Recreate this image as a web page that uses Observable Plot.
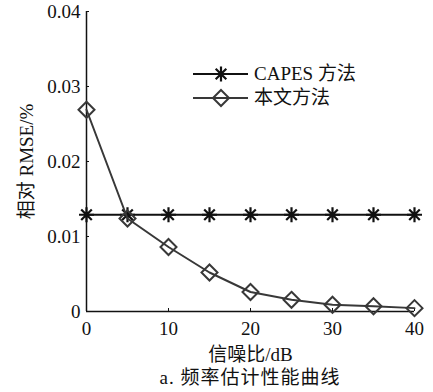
<!DOCTYPE html>
<html>
<head>
<meta charset="utf-8">
<script src="https://cdn.jsdelivr.net/npm/d3@7"></script>
<script src="https://cdn.jsdelivr.net/npm/@observablehq/plot@0.6"></script>
<style>
  html, body { margin: 0; padding: 0; background: #fff; }
  #wrap { position: relative; width: 433px; height: 392px; font-family: "Liberation Serif", "Noto Sans CJK SC", serif; }
  #caption { position: absolute; left: 86px; width: 328px; top: 367px; text-align: center; font-size: 19px; line-height: 22px; color: #111; letter-spacing: 1px; }
  #legend { position: absolute; left: 190px; top: 62px; }
</style>
</head>
<body>
<div id="wrap"></div>
<script>
const snr = [0, 5, 10, 15, 20, 25, 30, 35, 40];
const capes = [0.0129, 0.0129, 0.0129, 0.0129, 0.0129, 0.0129, 0.0129, 0.0129, 0.0129];
const proposed = [0.0269, 0.0124, 0.0086, 0.0052, 0.0026, 0.00156, 0.0009, 0.0007, 0.00045];
const seriesNames = ["CAPES 方法", "本文方法"];
const xTicks = [0, 10, 20, 30, 40];
const yTicks = [0, 0.01, 0.02, 0.03, 0.04];
const xLabel = "信噪比/dB";
const yLabel = "相对 RMSE/%";
const caption = "a. 频率估计性能曲线";

const asterisk = {
  draw(ctx, size) {
    const r = Math.sqrt(size / Math.PI);
    const d = r * Math.SQRT1_2;
    ctx.moveTo(0, -r); ctx.lineTo(0, r);
    ctx.moveTo(-r, 0); ctx.lineTo(r, 0);
    ctx.moveTo(-d, -d); ctx.lineTo(d, d);
    ctx.moveTo(-d, d); ctx.lineTo(d, -d);
  }
};
const diamond = {
  draw(ctx, size) {
    const r = Math.sqrt(size / Math.PI);
    ctx.moveTo(0, -r); ctx.lineTo(r, 0); ctx.lineTo(0, r); ctx.lineTo(-r, 0); ctx.closePath();
  }
};

const capesData = snr.map((x, i) => ({x, y: capes[i]}));
const propData = snr.map((x, i) => ({x, y: proposed[i]}));
const capesColor = "#111";
const propColor = "#383838";

const chart = Plot.plot({
  width: 433,
  height: 367,
  marginLeft: 86,
  marginRight: 19,
  marginTop: 11,
  marginBottom: 56,
  style: { fontFamily: '"Liberation Serif", "Noto Sans CJK SC", serif', fontSize: "19px", color: "#111", background: "#fff" },
  x: { domain: [0, 40] },
  y: { domain: [0, 0.04] },
  marks: [
    Plot.axisX({ ticks: xTicks, tickSize: -3, tickPadding: 13, tickFormat: d => String(d), label: xLabel, labelAnchor: "center", labelArrow: "none", labelOffset: 49, fontSize: 19, stroke: "#111", fill: "#111" }),
    Plot.axisY({ ticks: yTicks, tickSize: -3, tickPadding: 9, tickFormat: d => String(d), label: yLabel, labelAnchor: "center", labelArrow: "none", labelOffset: 67, fontSize: 19, stroke: "#111", fill: "#111" }),
    Plot.ruleX([0], { stroke: "#111", strokeWidth: 1.5 }),
    Plot.ruleY([0], { stroke: "#111", strokeWidth: 1.5 }),
    Plot.line(capesData, { x: "x", y: "y", stroke: capesColor, strokeWidth: 2 }),
    Plot.dot(capesData, { x: "x", y: "y", symbol: asterisk, r: 7.5, stroke: capesColor, strokeWidth: 2.2, fill: "none" }),
    Plot.line(propData, { x: "x", y: "y", stroke: propColor, strokeWidth: 2 }),
    Plot.dot(propData, { x: "x", y: "y", symbol: diamond, r: 8, stroke: propColor, strokeWidth: 2, fill: "none" })
  ]
});

const wrap = document.getElementById("wrap");
wrap.appendChild(chart);
chart.style.position = "absolute";
chart.style.left = "0px";
chart.style.top = "0px";

// Legend overlay
const legendSvg = d3.create("svg").attr("id", "legend").attr("width", 200).attr("height", 50)
  .style("font-family", '"Liberation Serif", "Noto Sans CJK SC", serif').style("font-size", "19px");
const items = [
  { name: seriesNames[0], color: capesColor, sym: asterisk, r: 7.5, sw: 2.2 },
  { name: seriesNames[1], color: propColor, sym: diamond, r: 8, sw: 2 }
];
items.forEach((it, i) => {
  const g = legendSvg.append("g").attr("transform", `translate(0, ${12 + i * 24})`);
  g.append("line").attr("x1", 3).attr("x2", 58).attr("y1", 0).attr("y2", 0).attr("stroke", it.color).attr("stroke-width", 2);
  g.append("path").attr("transform", "translate(31,0)").attr("d", d3.symbol(it.sym, Math.PI * it.r * it.r)()).attr("fill", "none").attr("stroke", it.color).attr("stroke-width", it.sw);
  g.append("text").attr("x", 64).attr("y", 6).attr("fill", "#111").text(it.name);
});
wrap.appendChild(legendSvg.node());

const cap = document.createElement("div");
cap.id = "caption";
cap.textContent = caption;
wrap.appendChild(cap);
</script>
</body>
</html>
